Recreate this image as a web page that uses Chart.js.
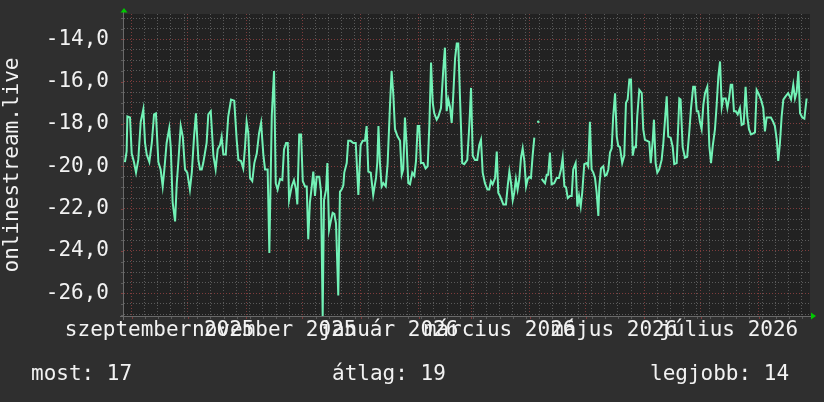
<!DOCTYPE html>
<html><head><meta charset="utf-8">
<script src="https://cdn.jsdelivr.net/npm/chart.js"></script>
<style>
html,body{margin:0;padding:0;background:#2f2f2f;}
#wrap{position:relative;width:824px;height:402px;overflow:hidden;}
canvas{position:absolute;left:0;top:0;}
.leg{position:absolute;top:363px;font-family:"DejaVu Sans Mono";font-size:21px;line-height:21px;color:#f2f2f2;white-space:pre;}
</style></head><body>
<div id="wrap"><canvas id="c" width="824" height="402"></canvas>
<div class="leg" style="left:31px" id="leg0"></div>
<div class="leg" style="left:332px" id="leg1"></div>
<div class="leg" style="left:650px" id="leg2"></div>
</div>
<script>
// day offsets since 2025-08-28 (time of each sample)
const sampleDays = [
0.5,1.4,1.8,3.2,4.1,5.3,6.4,7.6,8.9,10.3,
11.2,12.1,13.5,14.8,16.0,17.0,18.3,19.5,20.6,21.5,
22.7,24.1,24.9,25.9,27.2,28.1,28.9,30.2,31.3,32.5,
33.7,35.1,36.1,37.3,38.3,39.6,40.5,41.4,42.2,44.0,
44.9,46.2,47.6,48.8,49.9,51.1,52.0,52.9,54.2,55.5,
57.0,58.7,60.0,60.9,62.3,63.5,64.4,65.3,66.2,67.1,
68.3,69.4,70.7,71.9,73.0,74.2,75.1,76.5,77.4,78.7,
79.9,80.8,81.8,83.1,84.3,85.2,86.3,87.2,87.9,89.3,
90.5,91.6,92.3,93.3,94.3,95.2,96.4,97.3,98.1,99.0,
100.0,100.8,101.7,102.6,104.0,104.9,105.8,106.5,107.6,108.3,
109.2,110.1,111.1,112.0,112.9,114.1,115.0,115.9,116.8,117.3,
118.6,119.4,120.7,122.1,123.4,124.8,126.0,127.1,128.3,129.2,
130.1,131.4,132.7,134.2,134.9,135.5,136.3,137.2,138.1,139.4,
140.4,141.6,142.5,143.4,144.3,145.7,147.0,147.9,148.7,149.6,
150.5,151.4,152.3,153.5,154.6,155.5,156.4,157.2,158.1,159.4,
160.6,161.7,162.6,163.5,164.4,165.2,166.5,167.4,168.8,170.0,
170.9,171.8,172.7,173.6,174.5,175.3,176.3,177.2,178.0,178.9,
180.1,181.2,182.8,183.9,184.8,185.7,186.9,188.1,189.2,190.1,
191.0,192.2,193.5,194.5,195.4,196.3,197.6,198.5,199.3,200.2,
201.1,202.0,203.4,204.3,205.2,206.1,207.0,207.8,208.7,209.6,
210.5,211.4,212.3,213.2,214.1,215.0,215.8,216.7,217.6,218.5,
219.5,220.6,221.6,222.4,223.3,224.2,225.1,225.9,226.8,227.7,
229.1,230.4,231.6,232.7,233.6,234.5,235.4,236.3,237.5,238.4,
239.2,240.5,241.4,242.3,243.2,244.0,245.1,246.4,247.2,248.1,
249.0,249.9,250.8,251.7,252.6,253.1,254.0,255.2,256.1,257.0,
257.9,258.8,259.7,260.5,261.5,262.4,263.2,264.1,265.3,266.4,
267.3,268.2,269.1,270.0,270.9,271.7,272.6,273.3,274.4,275.7,
276.5,277.4,278.6,279.7,280.5,281.5,282.2,283.1,284.0,285.0,
286.3,287.2,288.1,289.0,289.8,291.1,292.2,293.0,294.3,295.2,
295.7,296.4,297.5,298.7,299.9,301.0,301.9,303.1,304.0,305.0,
305.8,306.7,307.6,308.5,309.4,310.6,311.7,312.6,313.5,314.7,
315.6,316.5,317.4,318.3,319.1,320.4,321.3,322.2,323.1,323.9,
324.8,325.7,326.8,328.0,328.9,330.0,331.0,331.9,332.8,333.9,
335.1,336.0,336.9,337.8,339.2,340.4,341.3,342.2,343.5,344.5,
345.7,346.6,347.6,348.4,349.3,350.2,351.1,352.3,353.7,355.2,
356.4,357.3,358.2,359.1,360.0,361.2,362.3,363.5
];
const onlineValues = [
-19.8,-19.3,-17.65,-17.7,-19.4,-19.8,-20.3,-19.7,-17.9,-17.3,
-18.9,-19.45,-19.8,-18.9,-17.55,-17.5,-19.8,-20.15,-20.95,-20.15,
-18.9,-18.2,-19.1,-21.7,-22.6,-20.8,-19.85,-18.1,-18.6,-20.15,
-20.3,-21.1,-20.3,-18.6,-17.5,-19.7,-20.15,-20.15,-19.85,-18.9,
-17.55,-17.4,-19.5,-20.15,-19.2,-19.0,-18.6,-19.45,-19.45,-17.65,
-16.85,-16.9,-18.75,-19.7,-19.75,-20.1,-19.15,-17.9,-18.45,-20.55,
-20.7,-19.85,-19.4,-18.45,-17.95,-19.45,-20.15,-20.15,-24.1,-17.6,
-15.5,-20.8,-21.1,-20.6,-20.65,-19.2,-18.9,-18.9,-21.6,-20.95,
-20.65,-21.1,-21.8,-18.5,-18.5,-20.7,-20.95,-20.95,-23.45,-21.7,
-20.95,-20.25,-21.4,-20.5,-20.5,-21.2,-27.1,-21.6,-21.1,-19.85,
-23.0,-22.6,-22.2,-22.25,-22.7,-26.1,-21.2,-21.1,-20.9,-20.3,
-19.85,-18.8,-18.8,-18.9,-18.9,-21.35,-19.0,-18.8,-18.8,-18.1,
-20.25,-20.3,-21.35,-20.55,-19.8,-18.1,-19.85,-20.95,-20.8,-20.95,
-19.85,-17.2,-15.5,-16.6,-18.25,-18.6,-18.8,-20.4,-20.15,-17.7,
-19.0,-20.8,-20.85,-20.3,-20.45,-19.75,-18.1,-18.1,-19.85,-19.85,
-20.1,-20.0,-18.1,-15.1,-17.0,-17.5,-17.8,-17.65,-17.25,-15.45,
-14.4,-17.4,-16.85,-17.2,-17.95,-16.7,-14.9,-14.2,-14.2,-16.7,
-19.85,-19.9,-19.7,-18.05,-16.3,-19.5,-19.7,-19.7,-19.0,-18.75,
-20.3,-20.8,-21.1,-21.1,-20.7,-20.85,-20.55,-19.3,-21.25,-21.4,
-21.6,-21.8,-21.8,-20.95,-20.25,-20.8,-21.6,-21.25,-20.6,-21.1,
-20.6,-19.6,-19.15,-19.75,-20.95,-20.6,-20.5,-20.55,-19.5,-18.65,
null,-17.9,null,-20.6,-20.7,-20.8,-20.4,-20.4,-19.35,-20.85,
-20.8,-20.55,-20.55,-20.15,-19.6,-20.95,-21.0,-21.5,-21.4,-21.4,
-20.15,-19.85,-21.9,-21.4,-21.9,-21.25,-19.9,-19.85,-20.0,-17.9,
-20.15,-20.3,-20.55,-21.25,-22.35,-20.95,-20.1,-20.0,-20.45,-20.4,
-20.15,-19.35,-19.15,-17.65,-16.55,-18.6,-19.05,-19.1,-19.85,-19.5,
-17.0,-16.85,-15.9,-15.9,-19.5,-19.1,-19.1,-17.65,-16.4,-16.55,
-18.25,-18.75,-18.8,-18.85,-19.85,-18.85,-17.8,-19.85,-20.3,-20.15,
-19.7,-18.9,-17.8,-16.7,-18.6,-18.65,-19.1,-19.9,-19.85,-17.95,
-16.8,-16.85,-19.1,-19.6,-19.55,-18.4,-17.3,-16.25,-16.25,-17.4,
-17.4,-17.9,-18.25,-17.1,-16.55,-16.25,-19.05,-19.85,-19.05,-18.25,
-17.1,-15.75,-15.05,-17.2,-16.8,-16.8,-17.25,-16.8,-16.15,-16.15,
-17.4,-17.4,-17.55,-17.25,-18.05,-18.0,-16.25,-17.65,-18.25,-18.5,
-18.45,-18.4,-16.4,-16.55,-16.85,-17.25,-18.35,-17.7,-17.7,-17.7,
-17.9,-18.1,-18.75,-19.75,-18.9,-17.65,-16.85,-16.7,-16.55,-16.85,
-16.15,-16.8,-16.5,-15.5,-17.5,-17.7,-17.75,-16.8
];
// calendar (days since 2025-08-28)
const spanDays = 365.3;
const monthStartDays = [4,34,65,95,126,157,185,216,246,277,307,338];
const firstMondayDay = 4;
const labelDays = [19,80,141,200,261,322];
const labelTexts = ['szeptember 2025','november 2025','január 2026','március 2026','május 2026','július 2026'];
const yMajorTicks = [-26,-24,-22,-20,-18,-16,-14];
const yMin = -27.07, yMax = -12.81;
const yTitle = 'onlinestream.live';
const legendTexts = ['most: 17','átlag: 19','legjobb: 14'];

legendTexts.forEach((t,i)=>{document.getElementById('leg'+i).textContent=t;});

const FONT = 'DejaVu Sans Mono';
const TXT = '#f2f2f2';
const MINOR = '#5a5a5a';
const MAJOR = '#7e3c3c';
const LINE = '#72f2b6';

function buildXTicks(){
  const m = new Map();
  for(let d=firstMondayDay; d<spanDays; d+=7) m.set(d,{value:d,g:'minor',lbl:''});
  monthStartDays.forEach(d=>{const t=m.get(d)||{value:d,lbl:''}; t.g='major'; m.set(d,t);});
  labelDays.forEach((d,i)=>{const t=m.get(d)||{value:d,g:null,lbl:''}; t.lbl=labelTexts[i]; m.set(d,t);});
  return [...m.values()].sort((a,b)=>a.value-b.value);
}
function buildYTicks(){
  const t=[];
  for(let k=Math.ceil(yMin*2); k<=Math.floor(yMax*2); k++) t.push({value:k/2, g: (k%4===0)?'major':'minor'});
  return t;
}

const deco = {
  id:'deco',
  beforeDraw(chart){
    const {ctx, chartArea:a} = chart;
    ctx.save();
    ctx.fillStyle='#222222';
    ctx.fillRect(a.left, a.top, a.right-a.left, a.bottom-a.top);
    ctx.restore();
  },
  afterDraw(chart){
    const {ctx, chartArea:a, scales} = chart;
    ctx.save();
    ctx.lineWidth=1;
    scales.x.ticks.forEach(t=>{
      if(!t.g) return;
      const px=Math.round(scales.x.getPixelForValue(t.value))+0.5;
      ctx.strokeStyle = t.g==='major'?MAJOR:MINOR;
      ctx.beginPath(); ctx.moveTo(px,a.bottom); ctx.lineTo(px,a.bottom+3); ctx.stroke();
    });
    scales.y.ticks.forEach(t=>{
      const py=Math.round(scales.y.getPixelForValue(t.value))+0.5;
      ctx.strokeStyle = t.g==='major'?MAJOR:MINOR;
      ctx.beginPath(); ctx.moveTo(a.left-3,py); ctx.lineTo(a.left,py); ctx.stroke();
    });
    ctx.strokeStyle='#6a6a6a';
    ctx.beginPath(); ctx.moveTo(a.left-4, a.bottom+0.5); ctx.lineTo(a.right+2, a.bottom+0.5); ctx.stroke();
    ctx.beginPath(); ctx.moveTo(a.left-0.5, a.bottom+4); ctx.lineTo(a.left-0.5, a.top-2); ctx.stroke();
    ctx.fillStyle='#00c800';
    ctx.beginPath(); ctx.moveTo(a.left-3.5,a.top-1.5); ctx.lineTo(a.left+3.5,a.top-1.5); ctx.lineTo(a.left,a.top-6); ctx.closePath(); ctx.fill();
    ctx.beginPath(); ctx.moveTo(a.right+1,a.bottom-3.5); ctx.lineTo(a.right+1,a.bottom+3.5); ctx.lineTo(a.right+6,a.bottom); ctx.closePath(); ctx.fill();
    ctx.restore();
  }
};

const points = sampleDays.map((d,i)=>({x:d, y:onlineValues[i]}));

new Chart(document.getElementById('c'), {
  type:'line',
  data:{datasets:[{
    data: points,
    borderColor: LINE,
    backgroundColor: LINE,
    borderWidth: 2,
    tension: 0,
    spanGaps: false,
    pointRadius: ctx=>{
      const i=ctx.dataIndex, v=onlineValues;
      if(v[i]===null) return 0;
      const lone=(i===0||v[i-1]===null)&&(i===v.length-1||v[i+1]===null);
      return lone?1.3:0;
    },
    pointBorderWidth:0,
    pointHoverRadius:0
  }]},
  options:{
    responsive:false,
    animation:false,
    events:[],
    layout:{padding:{left:0,top:14,right:14,bottom:0}},
    plugins:{legend:{display:false},tooltip:{enabled:false}},
    scales:{
      x:{
        type:'linear', min:0, max:spanDays,
        afterBuildTicks: s=>{ s.ticks = buildXTicks(); },
        afterFit: s=>{ s.height = 86; s.paddingLeft = 0; s.paddingRight = 0; },
        grid:{
          drawTicks:false,
          color: c=> c.tick && c.tick.g==='major'?MAJOR:(c.tick && c.tick.g==='minor'?MINOR:'rgba(0,0,0,0)'),
          lineWidth:1
        },
        border:{display:false, dash:[1,2]},
        ticks:{
          autoSkip:false, maxRotation:0, minRotation:0, padding:0,
          color:TXT, font:{family:FONT,size:21,lineHeight:1.36},
          callback:(v,i,ticks)=> (ticks[i] && ticks[i].lbl) || ''
        }
      },
      y:{
        type:'linear', min:yMin, max:yMax,
        afterBuildTicks: s=>{ s.ticks = buildYTicks(); },
        afterFit: s=>{ s.width = 124; s.paddingTop = 0; s.paddingBottom = 0; },
        grid:{
          drawTicks:false,
          color: c=> c.tick && c.tick.g==='major'?MAJOR:MINOR,
          lineWidth:1
        },
        border:{display:false, dash:[1,2]},
        title:{display:true, text:yTitle, color:TXT, font:{family:FONT,size:21,lineHeight:1.2}, padding:{top:0,bottom:0}},
        ticks:{
          autoSkip:false, padding:15, color:TXT, font:{family:FONT,size:21},
          callback:v=> yMajorTicks.includes(v) ? v.toFixed(1).replace('.',',') : ''
        }
      }
    }
  },
  plugins:[deco]
});
</script>
</body></html>
